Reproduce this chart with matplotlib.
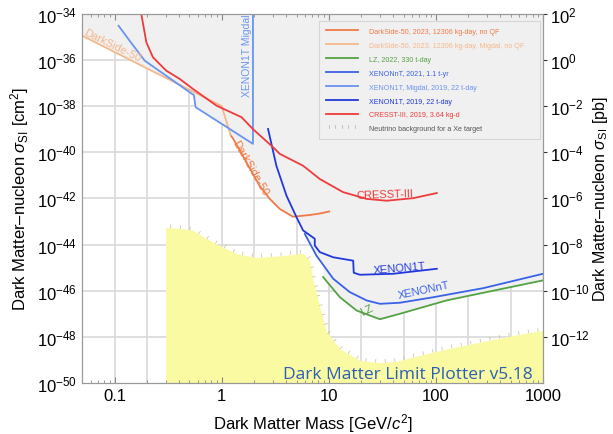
import numpy as np
import matplotlib
matplotlib.use('Agg')
import matplotlib.pyplot as plt
import matplotlib.patheffects as pe
from matplotlib.lines import Line2D

plt.rcParams['font.family'] = ['Liberation Sans', 'DejaVu Sans']
plt.rcParams['mathtext.fontset'] = 'custom'
plt.rcParams['mathtext.rm'] = 'Liberation Sans'
plt.rcParams['mathtext.it'] = 'Liberation Sans:italic'
plt.rcParams['mathtext.bf'] = 'Liberation Sans:bold'

# masses in GeV/c^2, cross sections in cm^2
ds50_migdal_m = [0.05, 1.0, 1.21]
ds50_migdal_s = [1.1e-35, 1.0e-38, 5.6e-40]

ds50_m = [1.21, 1.28, 1.42, 1.70, 2.26, 2.81, 3.48, 4.63, 6.64, 8.24, 10.1]
ds50_s = [5.6e-40, 3.8e-40, 1.66e-40, 3.7e-41, 3.5e-42, 9.5e-43, 3.5e-43,
          1.6e-43, 1.9e-43, 2.2e-43, 2.7e-43]

x1t_migdal_m = [0.109, 0.138, 0.191, 0.521, 0.550, 0.571, 1.96, 1.96]
x1t_migdal_s = [3.0e-35, 6.8e-36, 9.3e-37, 3.5e-38, 3.0e-38, 8.9e-39, 2.3e-40, 1e-33]

cresst_m = [0.171, 0.198, 0.228, 0.282, 0.304, 0.405, 0.540, 0.891, 1.53, 1.96,
            3.01, 3.48, 5.75, 8.24, 13.6, 22.5, 34.6, 61.4, 102]
cresst_s = [2.6e-34, 5.8e-36, 1.3e-36, 4.8e-37, 3.4e-37, 1.5e-37, 5.5e-38, 1.05e-38,
            3.3e-39, 1.0e-39, 1.66e-40, 8.5e-41, 2.6e-41, 6.9e-42, 1.86e-42,
            9.5e-43, 7.9e-43, 1.02e-42, 1.7e-42]

x1t_m = [2.71, 3.24, 4.03, 4.99, 5.75, 7.40, 7.40, 8.24, 11.0, 16.9, 17.1, 19.5, 39.9, 102]
x1t_s = [1.02e-39, 2.6e-41, 1.3e-42, 1.55e-43, 4.1e-44, 1.78e-44, 9.1e-45, 4.7e-45,
         2.8e-45, 2.0e-45, 6.0e-46, 4.9e-46, 5.4e-46, 8.9e-46]

xnt_m = [5.97, 7.67, 11.0, 15.7, 22.5, 30.0, 46.1, 94.4, 277, 1000]
xnt_s = [2.9e-44, 3.3e-45, 3.3e-46, 8.7e-47, 3.8e-47, 2.7e-47, 3.0e-47, 5.2e-47,
         1.29e-46, 5.4e-46]

lz_m = [8.85, 12.7, 18.2, 30.0, 46.1, 126, 1000]
lz_s = [3.9e-46, 5.2e-47, 1.38e-47, 5.8e-48, 1.0e-47, 3.8e-47, 2.8e-46]

nu_m = [0.3, 0.435, 0.540, 0.719, 0.891, 1.37, 2.11, 3.74, 5.75, 6.64, 7.13, 8.24,
        9.51, 12.7, 19.5, 30.0, 43.0, 61.4, 126, 258, 527, 1000]
nu_s = [5.5e-44, 4.8e-44, 4.1e-44, 1.8e-44, 1.07e-44, 4.0e-45, 2.75e-45, 3.3e-45,
        4.3e-45, 1.95e-45, 2.7e-46, 2.0e-47, 1.66e-48, 3.0e-49, 9.5e-50, 7.6e-50,
        8.7e-50, 1.35e-49, 3.0e-49, 5.9e-49, 1.15e-48, 1.9e-48]

curves = [
    (ds50_m, ds50_s, '#ef7a45', 'DarkSide-50, 2023, 12306 kg-day, no QF'),
    (ds50_migdal_m, ds50_migdal_s, '#f5b88c', 'DarkSide-50, 2023, 12306 kg-day, Migdal, no QF'),
    (lz_m, lz_s, '#55a244', 'LZ, 2022, 330 t-day'),
    (xnt_m, xnt_s, '#3a62e6', 'XENONnT, 2021, 1.1 t-yr'),
    (x1t_migdal_m, x1t_migdal_s, '#6a94ef', 'XENON1T, Migdal, 2019, 22 t-day'),
    (x1t_m, x1t_s, '#2238dc', 'XENON1T, 2019, 22 t-day'),
    (cresst_m, cresst_s, '#ee3b3b', 'CRESST-III, 2019, 3.64 kg-d'),
]

fig = plt.figure(figsize=(6.13, 4.35), dpi=100)
ax = fig.add_axes([0.1343, 0.1172, 0.7515, 0.849])
ax.set_xscale('log')
ax.set_yscale('log')
ax.set_xlim(0.05, 1000)
ax.set_ylim(1e-50, 1e-34)

# excluded region: everything above the lowest limit
grid = np.logspace(np.log10(0.05), 3, 3000)
env = np.full(grid.shape, np.nan)
for m, s, c, lab in curves:
    lm = np.log10(m)
    vals = np.interp(np.log10(grid), lm, np.log10(s), left=np.nan, right=np.nan)
    env = np.fmin(env, vals)
ax.fill_between(grid, 10**env, 1e-33, color='#f0f0f0', lw=0, zorder=1)

# neutrino background
ax.fill_between(nu_m, nu_s, 1e-51, color='#fafaa3', lw=0, zorder=1.2)
ax.plot(nu_m, nu_s, color='#cdb98e', lw=0.5, zorder=1.3,
        path_effects=[pe.TickedStroke(spacing=7, angle=90, length=0.3)])

# grid lines
for d in [0.1, 1, 10, 100]:
    for k in [1, 2, 5]:
        ax.axvline(d * k, color='#d9d9d9', lw=1.2, zorder=0)
for e in range(-48, -34, 2):
    ax.axhline(10.0**e, color='#d9d9d9', lw=1.2, zorder=0)

handles = []
for m, s, c, lab in curves:
    ln, = ax.plot(m, s, color=c, lw=1.3, zorder=3, label=lab)
    handles.append(ln)
nu_h = Line2D([0], [0], color='#bbbbbb', lw=0.6,
              path_effects=[pe.TickedStroke(spacing=4, angle=90, length=0.5)],
              label='Neutrino background for a Xe target')
handles.append(nu_h)

# curve labels
ax.text(0.096, 4.3e-36, 'DarkSide-50', color='#f5b88c', fontsize=8, rotation=-26,
        ha='center', va='center', zorder=4)
ax.text(1.83, 2.3e-41, 'DarkSide-50', color='#ef7a45', fontsize=8, rotation=-60,
        ha='center', va='center', zorder=4)
ax.text(1.71, 2.8e-38, 'XENON1T Migdal', color='#6a94ef', fontsize=7.5, rotation=90,
        ha='center', va='bottom', zorder=4)
ax.text(33, 1.55e-42, 'CRESST-III', color='#ee3b3b', fontsize=8, rotation=2,
        ha='center', va='center', zorder=4)
ax.text(46, 1.0e-45, 'XENON1T', color='#2238dc', fontsize=8, rotation=5,
        ha='center', va='center', zorder=4)
ax.text(77, 1.1e-46, 'XENONnT', color='#3a62e6', fontsize=8, rotation=12,
        ha='center', va='center', zorder=4)
ax.text(22.5, 1.45e-47, 'LZ', color='#55a244', fontsize=8, rotation=25,
        ha='center', va='center', zorder=4)

ax.text(0.978, 0.0135, 'Dark Matter Limit Plotter v5.18', transform=ax.transAxes,
        family='Open Sans', fontsize=12.5, color='#2b5fb4', ha='right', va='baseline',
        zorder=5)

leg = ax.legend(handles=handles, loc='upper left', bbox_to_anchor=(0.514, 0.6715, 0.4795, 0.3085),
                mode='expand', fontsize=5.1, labelcolor='linecolor', frameon=True,
                fancybox=False, handlelength=4.5, handletextpad=1.6, labelspacing=0.98,
                borderpad=0.95, borderaxespad=0)
leg.get_frame().set_facecolor('#f0f0f0')
leg.get_frame().set_edgecolor('#d0d0d0')
leg.get_frame().set_linewidth(0.8)
leg.get_texts()[-1].set_color('#555555')
leg.set_zorder(6)

# ticks
ax.set_xticks([0.1, 1, 10, 100, 1000])
ax.set_xticklabels(['0.1', '1', '10', '100', '1000'])
ax.set_yticks([10.0**e for e in range(-50, -33, 2)])
ax.set_yticks([10.0**e for e in range(-49, -34, 2)], minor=True)
ax.yaxis.set_minor_formatter(matplotlib.ticker.NullFormatter())
ax.tick_params(axis='both', which='both', direction='in', colors='#888888',
               labelcolor='black', labelsize=12, top=True)
ax.tick_params(axis='x', which='major', length=4)
ax.tick_params(axis='x', which='minor', length=2)
ax.tick_params(axis='y', which='major', length=0, pad=4)
ax.tick_params(axis='y', which='minor', length=0)
for sp in ax.spines.values():
    sp.set_color('#999999')

ax.set_xlabel('Dark Matter Mass [GeV/$c^2$]', fontsize=12, labelpad=6)
ax.set_ylabel('Dark Matter\u2013nucleon $\\sigma_{\\rm SI}$ [cm$^2$]', fontsize=12, labelpad=4)

ax2 = ax.twinx()
ax2.set_yscale('log')
ax2.set_ylim(1e-14, 1e2)
ax2.set_yticks([10.0**e for e in range(-12, 3, 2)])
ax2.yaxis.set_minor_locator(matplotlib.ticker.NullLocator())
ax2.tick_params(axis='y', direction='out', length=3, labelsize=12, colors='#333333',
                labelcolor='black', pad=2)
for sp in ax2.spines.values():
    sp.set_color('#999999')
ax2.set_ylabel('Dark Matter\u2013nucleon $\\sigma_{\\rm SI}$ [pb]', fontsize=11.5, labelpad=1)

fig.savefig('out.png', dpi=100)
